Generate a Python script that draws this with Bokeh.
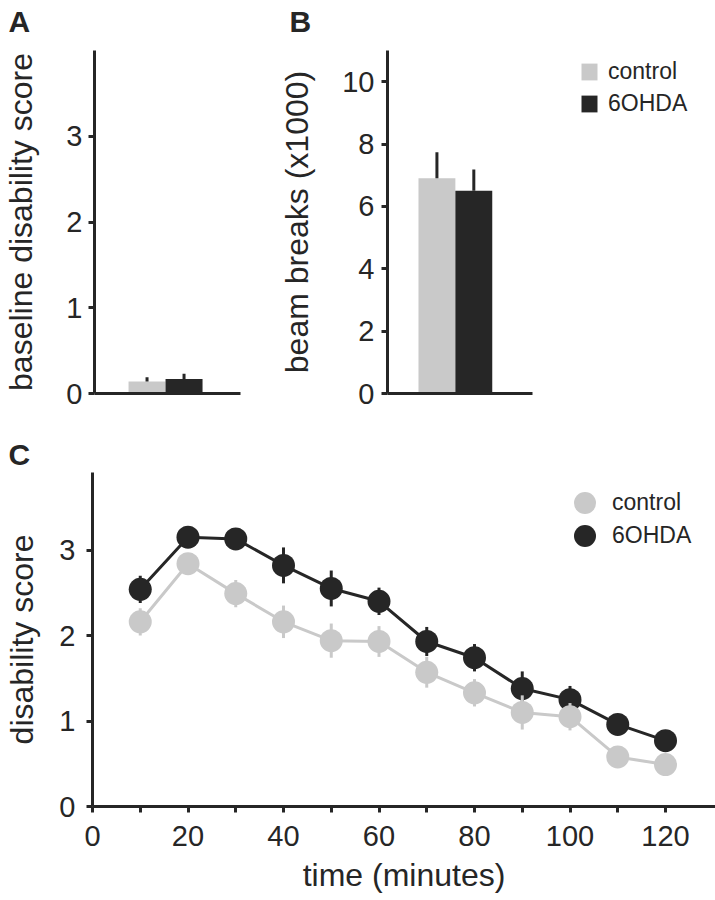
from bokeh.plotting import figure
from bokeh.models import FixedTicker, Legend, LegendItem, Range1d, Title
from bokeh.layouts import column, row
from bokeh.embed import file_html
from bokeh.resources import INLINE

# ---------------- data ----------------
groups = ["control", "6OHDA"]
baseline_mean = [0.14, 0.17]
baseline_err = [0.05, 0.06]
beam_mean = [6.9, 6.5]
beam_err = [0.84, 0.68]

time_min = [10, 20, 30, 40, 50, 60, 70, 80, 90, 100, 110, 120]
control_score = [2.16, 2.84, 2.49, 2.16, 1.94, 1.93, 1.57, 1.33, 1.10, 1.05, 0.58, 0.49]
control_err = [0.16, 0.12, 0.16, 0.19, 0.20, 0.18, 0.18, 0.16, 0.20, 0.16, 0.10, 0.08]
ohda_score = [2.54, 3.15, 3.13, 2.82, 2.55, 2.40, 1.93, 1.74, 1.38, 1.25, 0.96, 0.77]
ohda_err = [0.16, 0.08, 0.12, 0.21, 0.21, 0.16, 0.17, 0.16, 0.20, 0.16, 0.10, 0.08]

A_ticks = [0, 1, 2, 3]
B_ticks = [0, 2, 4, 6, 8, 10]
C_yticks = [0, 1, 2, 3]
C_xticks = [0, 10, 20, 30, 40, 50, 60, 70, 80, 90, 100, 110, 120]
C_xlabels = {t: (str(t) if t % 20 == 0 else "") for t in C_xticks}

DARK = "#262626"
LIGHT = "#c9c9c9"
FONT = "Liberation Sans"
TICK_FS = "29px"
LAB_FS = "32px"
LEG_FS = "23px"
LET_FS = "30px"


def style(p):
    p.xgrid.visible = False
    p.ygrid.visible = False
    p.outline_line_color = None
    p.background_fill_color = "white"
    p.border_fill_color = "white"
    for ax in p.axis:
        ax.axis_line_width = 3
        ax.axis_line_color = DARK
        ax.major_tick_line_width = 3
        ax.major_tick_line_color = DARK
        ax.major_tick_out = 6
        ax.major_tick_in = 0
        ax.minor_tick_line_color = None
        ax.major_label_text_font = FONT
        ax.major_label_text_font_size = TICK_FS
        ax.major_label_text_color = DARK
        ax.axis_label_text_font = FONT
        ax.axis_label_text_font_size = LAB_FS
        ax.axis_label_text_font_style = "normal"
        ax.axis_label_text_color = DARK


def letter(p, text, offset, spacer=None):
    t = p.title
    t.text = text
    t.align = "left"
    t.offset = offset
    t.standoff = 0
    t.vertical_align = "top"
    t.text_font = FONT
    t.text_font_size = LET_FS
    t.text_font_style = "bold"
    t.text_color = DARK
    if spacer is not None:
        p.add_layout(Title(text=" ", text_font_size="1px", standoff=spacer), "above")


PX_PER_BAR = 37.0
bar_colors = [LIGHT, DARK]
ROW1_H = 435

# ---------------- panel A ----------------
pA = figure(width=276, height=ROW1_H, x_range=Range1d(0, 146 / PX_PER_BAR), y_range=Range1d(0, 4),
            output_backend="svg", toolbar_location=None,
            min_border_left=94, min_border_right=36, min_border_top=50, min_border_bottom=ROW1_H - 393)
style(pA)
xA = [0.92 + 0.5 + i for i in range(len(groups))]
pA.vbar(x=xA, top=baseline_mean, width=1.0, fill_color=bar_colors, line_color=None)
pA.segment(x0=xA, y0=baseline_mean, x1=xA, y1=[m + e for m, e in zip(baseline_mean, baseline_err)],
           line_width=3, line_color=DARK)
pA.xaxis.ticker = FixedTicker(ticks=[])
pA.yaxis.ticker = FixedTicker(ticks=A_ticks)
pA.yaxis.axis_label = "baseline disability score"
pA.yaxis.major_label_standoff = 6
pA.yaxis.axis_label_standoff = 24
letter(pA, "A", -86, spacer=8)

# ---------------- panel B ----------------
B_frame_w = 322
pB = figure(width=439, height=ROW1_H, x_range=Range1d(0, B_frame_w / PX_PER_BAR), y_range=Range1d(0, 11),
            output_backend="svg", toolbar_location=None,
            min_border_left=110, min_border_right=7, min_border_top=50, min_border_bottom=ROW1_H - 393)
style(pB)
xB = [0.84 + 0.5 + i for i in range(len(groups))]
bars_B = pB.vbar(x=xB, top=beam_mean, width=1.0, fill_color=bar_colors, line_color=None)
pB.segment(x0=xB, y0=beam_mean, x1=xB, y1=[m + e for m, e in zip(beam_mean, beam_err)],
           line_width=3, line_color=DARK)
pB.xaxis.ticker = FixedTicker(ticks=[])
pB.xaxis.bounds = (0, 145 / PX_PER_BAR)
pB.yaxis.ticker = FixedTicker(ticks=B_ticks)
pB.yaxis.axis_label = "beam breaks (x1000)"
pB.yaxis.major_label_standoff = 7
pB.yaxis.axis_label_standoff = 24
letter(pB, "B", -98, spacer=8)

legB_pos = [(192, 308), (192, 276)]
for i in range(len(groups)):
    pB.add_layout(Legend(items=[LegendItem(label=groups[i], renderers=[bars_B], index=i)],
                         location=legB_pos[i], glyph_width=20, glyph_height=21, label_standoff=9,
                         padding=0, margin=0, border_line_color=None, background_fill_alpha=0,
                         label_text_font=FONT, label_text_font_size=LEG_FS, label_text_color=DARK))

# ---------------- panel C ----------------
C_frame_left = 92
pC = figure(width=715, height=465, x_range=Range1d(0, (715 - C_frame_left) / 4.775),
            y_range=Range1d(0, 334 / 85.5),
            output_backend="svg", toolbar_location=None,
            min_border_left=C_frame_left, min_border_right=0, min_border_top=37, min_border_bottom=94)
style(pC)
# 6OHDA series (drawn first, underneath)
pC.line(time_min, ohda_score, line_width=3, line_color=DARK)
pC.segment(x0=time_min, y0=[m - e for m, e in zip(ohda_score, ohda_err)], x1=time_min,
           y1=[m + e for m, e in zip(ohda_score, ohda_err)], line_width=3, line_color=DARK)
r_ohda = pC.scatter(time_min, ohda_score, size=23, fill_color=DARK, line_color=None)
# control series
pC.line(time_min, control_score, line_width=3, line_color=LIGHT)
pC.segment(x0=time_min, y0=[m - e for m, e in zip(control_score, control_err)], x1=time_min,
           y1=[m + e for m, e in zip(control_score, control_err)], line_width=3, line_color=LIGHT)
r_ctrl = pC.scatter(time_min, control_score, size=23, fill_color=LIGHT, line_color=None)

pC.xaxis.ticker = FixedTicker(ticks=C_xticks)
pC.xaxis.major_label_overrides = C_xlabels
pC.xaxis.major_label_standoff = 13
pC.xaxis.axis_label = "time (minutes)"
pC.xaxis.axis_label_standoff = 8
pC.yaxis.ticker = FixedTicker(ticks=C_yticks)
pC.yaxis.major_label_standoff = 11
pC.yaxis.axis_label = "disability score"
pC.yaxis.axis_label_standoff = 16
letter(pC, "C", 8 - C_frame_left)

legC_items = [("control", r_ctrl, (465, 276)), ("6OHDA", r_ohda, (465, 243))]
for lab, rend, loc in legC_items:
    pC.add_layout(Legend(items=[LegendItem(label=lab, renderers=[rend])],
                         location=loc, glyph_width=55, glyph_height=55, label_standoff=0,
                         padding=0, margin=0, border_line_color=None, background_fill_alpha=0,
                         label_text_font=FONT, label_text_font_size=LEG_FS, label_text_color=DARK))

layout = column(row(pA, pB), pC)
open("out.html", "w").write(file_html(layout, INLINE))
